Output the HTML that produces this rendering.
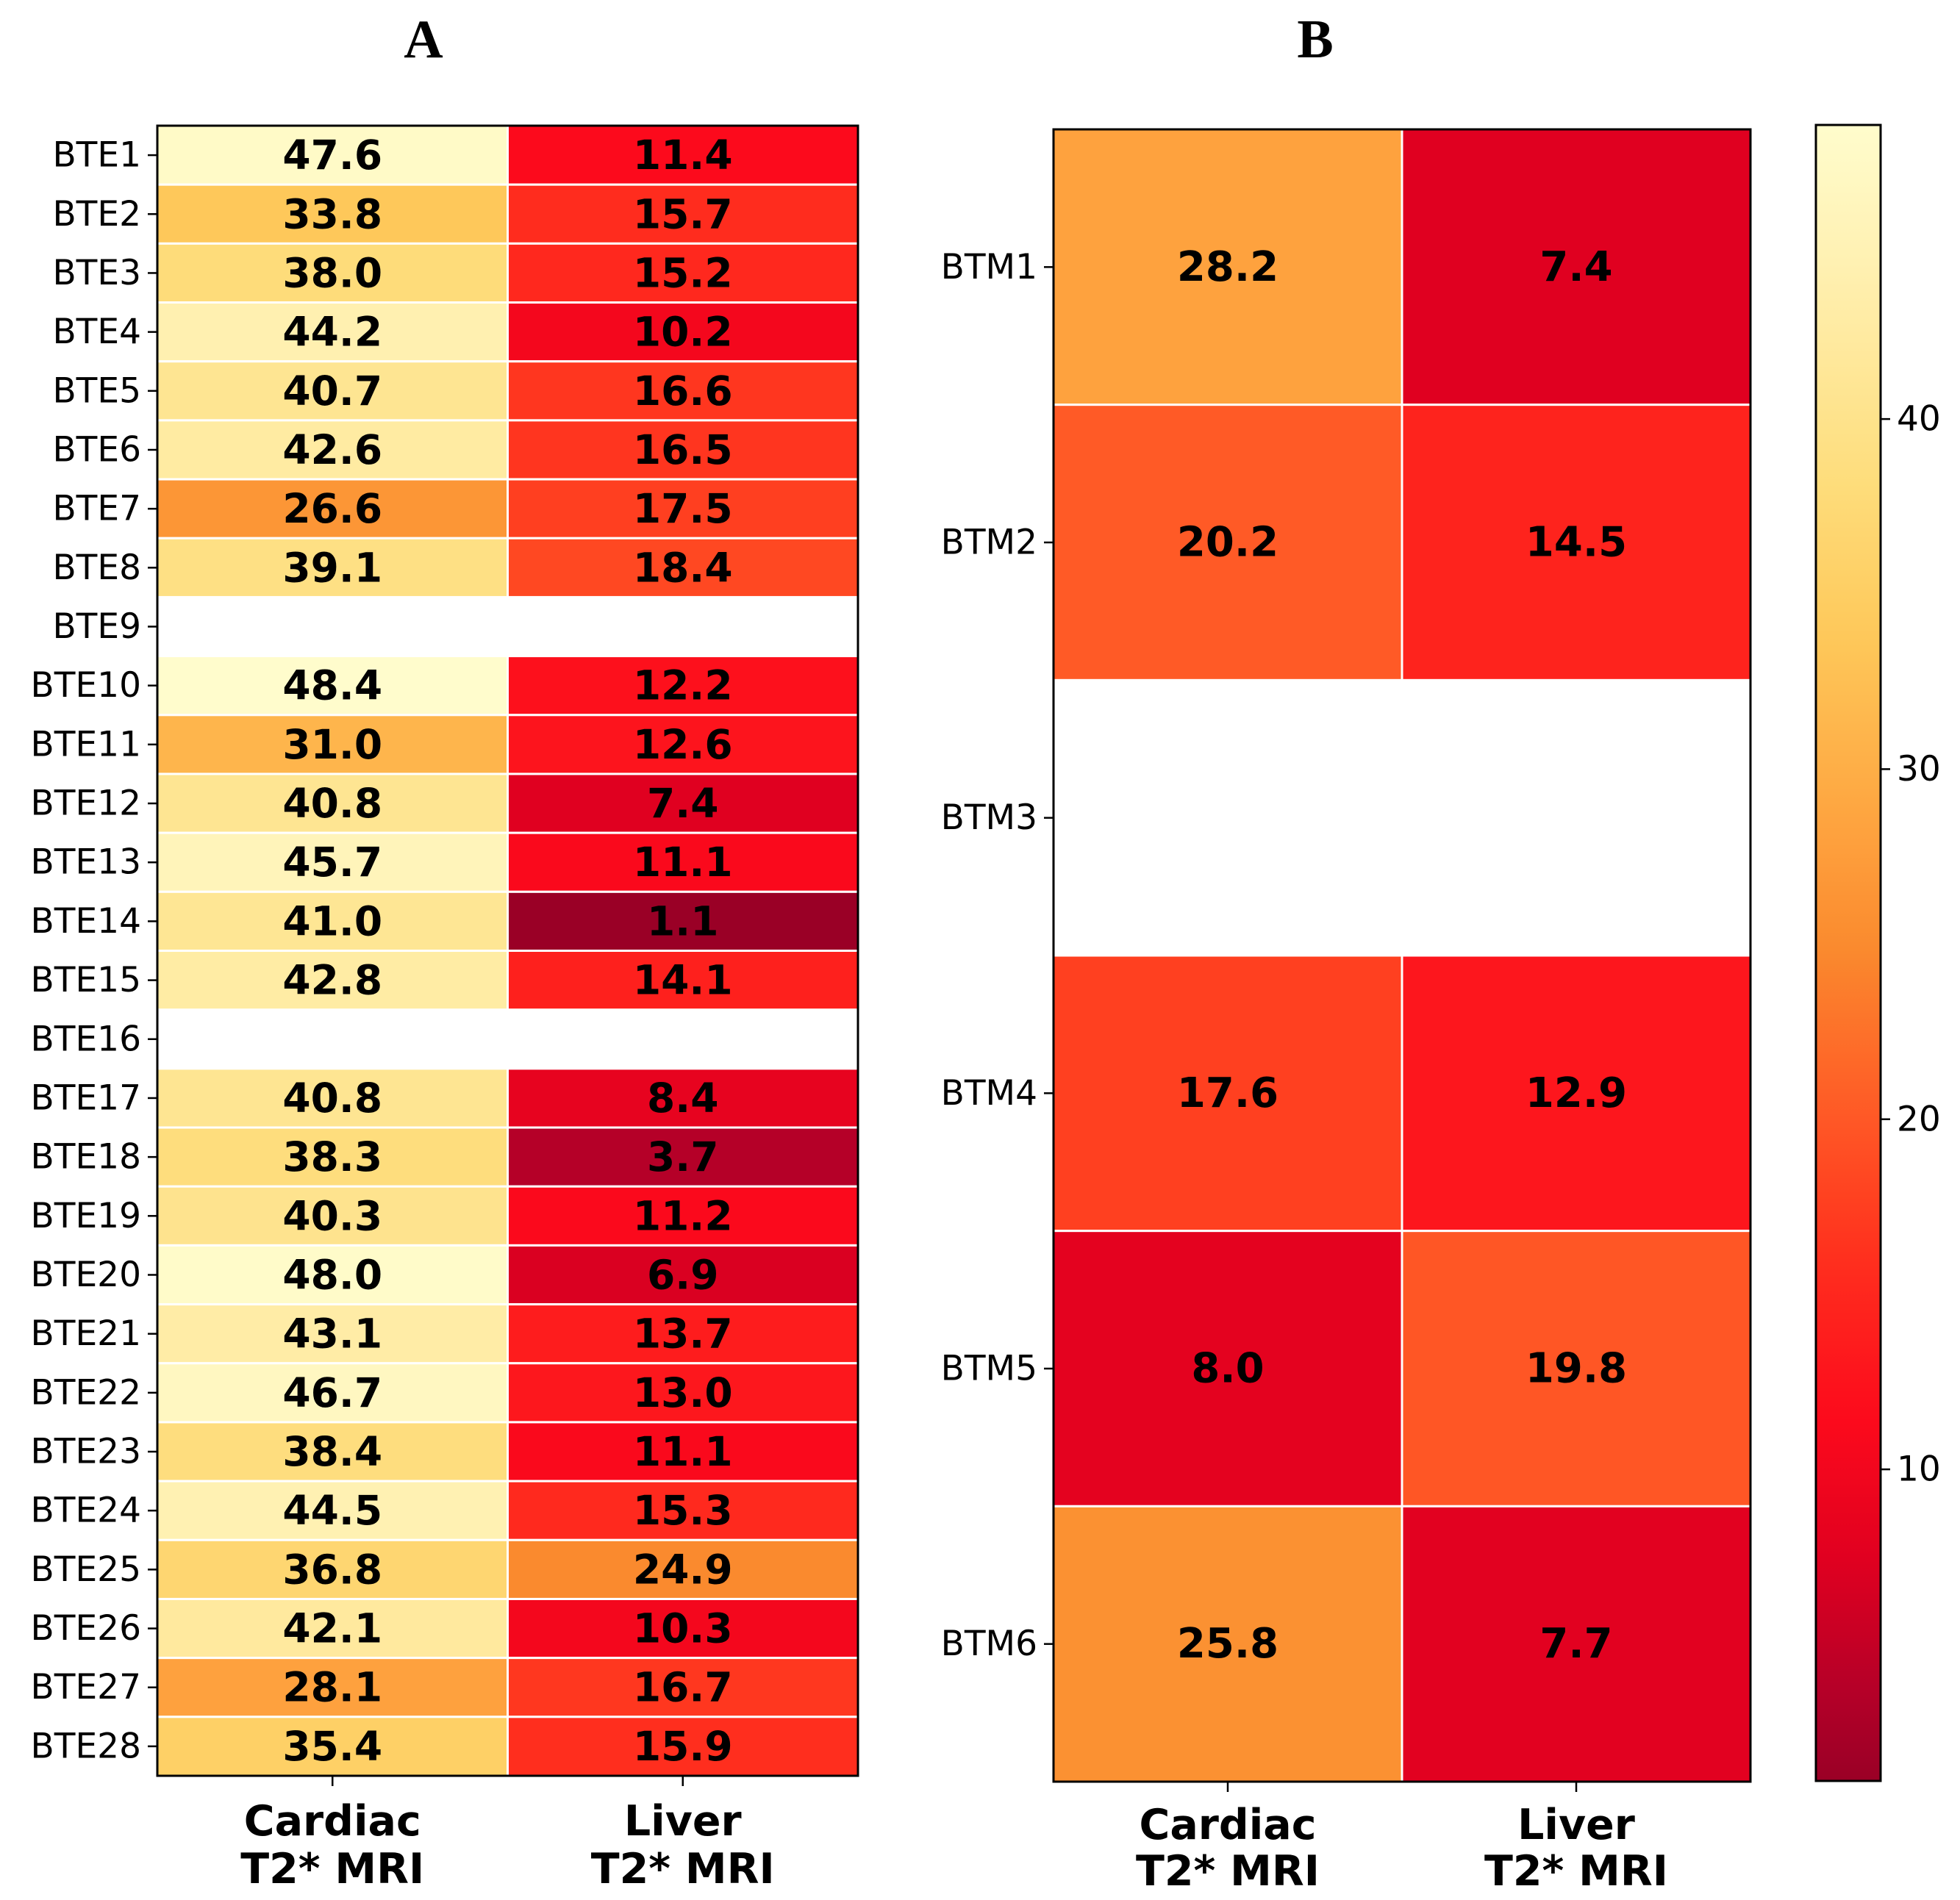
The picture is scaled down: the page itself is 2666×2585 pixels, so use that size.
<!DOCTYPE html>
<html><head><meta charset="utf-8">
<style>
html,body{margin:0;padding:0;background:#fff;}
svg{display:block;}
text{font-family:"DejaVu Sans","Liberation Sans",sans-serif;}
</style></head>
<body>
<svg id="fig" width="2666" height="2585" viewBox="0 0 2666 2585" xmlns="http://www.w3.org/2000/svg">
<text x="576" y="78" text-anchor="middle" style="font-family:'Liberation Serif',serif;font-weight:bold;font-size:74px">A</text>
<text x="1789" y="78" text-anchor="middle" style="font-family:'Liberation Serif',serif;font-weight:bold;font-size:74px">B</text>
<g id="pa"></g>
<g id="pb"></g>
<g id="cb"></g>
</svg>
<script>
const columns = ["Cardiac|T2* MRI", "Liver|T2* MRI"];
const rowsA = ["BTE1","BTE2","BTE3","BTE4","BTE5","BTE6","BTE7","BTE8","BTE9","BTE10","BTE11","BTE12","BTE13","BTE14","BTE15","BTE16","BTE17","BTE18","BTE19","BTE20","BTE21","BTE22","BTE23","BTE24","BTE25","BTE26","BTE27","BTE28"];
const cardiacA = [47.6,33.8,38.0,44.2,40.7,42.6,26.6,39.1,null,48.4,31.0,40.8,45.7,41.0,42.8,null,40.8,38.3,40.3,48.0,43.1,46.7,38.4,44.5,36.8,42.1,28.1,35.4];
const liverA = [11.4,15.7,15.2,10.2,16.6,16.5,17.5,18.4,null,12.2,12.6,7.4,11.1,1.1,14.1,null,8.4,3.7,11.2,6.9,13.7,13.0,11.1,15.3,24.9,10.3,16.7,15.9];
const rowsB = ["BTM1","BTM2","BTM3","BTM4","BTM5","BTM6"];
const cardiacB = [28.2,20.2,null,17.6,8.0,25.8];
const liverB = [7.4,14.5,null,12.9,19.8,7.7];
const cbTicks = [10,20,30,40];
const vmin = 1.1, vmax = 48.4;

const NS="http://www.w3.org/2000/svg";
// colormap knots (fraction of range -> rgb)
const cmK=[[0,154,0,38],[0.055,181,0,40],[0.133,224,0,32],[0.218,252,10,28],[0.31,255,45,30],[0.349,255,64,32],[0.404,255,90,38],[0.503,250,138,46],[0.573,254,162,62],[0.691,254,200,90],[0.78,254,220,122],[0.911,255,240,176],[1,255,252,204]];
function cmap(v){
  let p=(v-vmin)/(vmax-vmin); p=Math.max(0,Math.min(1,p));
  let i=0; while(i<cmK.length-2 && p>cmK[i+1][0]) i++;
  const a=cmK[i],b=cmK[i+1],t=(p-a[0])/(b[0]-a[0]);
  const c=[1,2,3].map(k=>Math.round(a[k]+(b[k]-a[k])*t));
  return `rgb(${c[0]},${c[1]},${c[2]})`;
}
function mk(tag,attrs,parent,txt){const e=document.createElementNS(NS,tag);for(const k in attrs)e.setAttribute(k,attrs[k]);if(txt!==undefined)e.textContent=txt;parent.appendChild(e);return e;}

function heat(g,rows,c1,c2,x0,x1,y0,y1,fs,lblY1,lblY2,prefix){
  const n=rows.length, rh=(y1-y0)/n, cw=(x1-x0)/2;
  const cols=[c1,c2];
  for(let r=0;r<n;r++){
    for(let c=0;c<2;c++){
      const v=cols[c][r];
      if(v===null)continue;
      const rect=mk('rect',{x:x0+c*cw,y:y0+r*rh,width:cw,height:rh,fill:cmap(v),stroke:'#fff','stroke-width':3},g);
      
      
      const t=mk('text',{x:x0+c*cw+cw/2,y:y0+r*rh+rh/2,'text-anchor':'middle','dominant-baseline':'central','font-size':fs,'font-weight':'bold',fill:'#000'},g,v.toFixed(1));
      
      
    }
    const cy=y0+r*rh+rh/2;
    mk('line',{x1:x0-13,x2:x0,y1:cy,y2:cy,stroke:'#000','stroke-width':2.5},g);
    const lt=mk('text',{x:x0-22,y:cy,'text-anchor':'end','dominant-baseline':'central','font-size':47,fill:'#000'},g,rows[r]);
    
    
  }
  const fr=mk('rect',{x:x0,y:y0,width:x1-x0,height:y1-y0,fill:'none',stroke:'#000','stroke-width':3},g);
  
  
  for(let c=0;c<2;c++){
    const cx=x0+c*cw+cw/2;
    mk('line',{x1:cx,x2:cx,y1:y1,y2:y1+14,stroke:'#000','stroke-width':2.5},g);
    const parts=columns[c].split('|');
    const t1=mk('text',{x:cx,y:lblY1,'text-anchor':'middle','dominant-baseline':'central','font-size':57,'font-weight':'bold'},g,parts[0]);
    
    
    const t2=mk('text',{x:cx,y:lblY2,'text-anchor':'middle','dominant-baseline':'central','font-size':57,'font-weight':'bold'},g,parts[1]);
    
    
  }
}
heat(document.getElementById('pa'),rowsA,cardiacA,liverA,214,1167,171,2416,55,2478,2543,'panel-a');
heat(document.getElementById('pb'),rowsB,cardiacB,liverB,1433,2381,176,2424,56,2483,2546,'panel-b');

// colorbar
const cb=document.getElementById('cb');
const cx0=2470,cx1=2558,cy0=170,cy1=2423;
const yv=v=>cy1-(v-vmin)/(vmax-vmin)*(cy1-cy0);
const defs=mk('defs',{},cb);
const lg=mk('linearGradient',{id:'cg',x1:0,y1:1,x2:0,y2:0},defs);
for(let i=0;i<=60;i++){const v=vmin+(vmax-vmin)*i/60;mk('stop',{offset:(i/60),'stop-color':cmap(v)},lg);}
const cr=mk('rect',{x:cx0,y:cy0,width:cx1-cx0,height:cy1-cy0,fill:'url(#cg)',stroke:'#000','stroke-width':3},cb);


cbTicks.forEach(v=>{
  const y=yv(v);
  mk('line',{x1:cx1,x2:cx1+13,y1:y,y2:y,stroke:'#000','stroke-width':2.5},cb);
  const t=mk('text',{x:cx1+22,y:y,'dominant-baseline':'central','font-size':47},cb,String(v));
  
  
});
</script>
</body></html>
